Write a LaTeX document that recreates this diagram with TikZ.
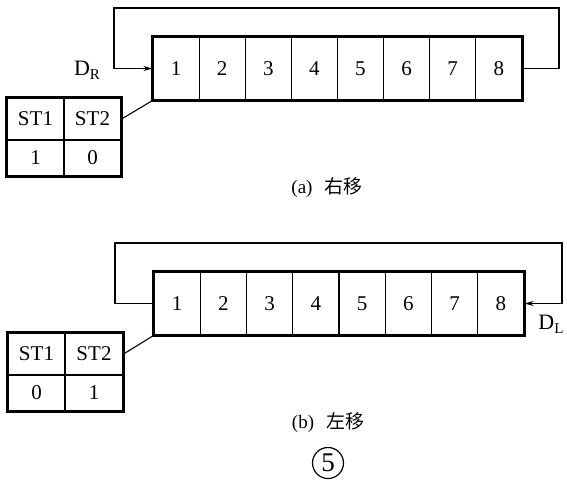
\documentclass[tikz,border=0pt]{standalone}
\usepackage{fontspec}
\setmainfont{Liberation Serif}
\newfontfamily\cjk{Noto Sans CJK SC}
\usetikzlibrary{arrows.meta}
\newcommand{\mysub}[1]{\raisebox{-4pt}{\fontsize{15}{15}\selectfont #1}}
\begin{document}
\begin{tikzpicture}[x=1pt,y=-1pt,
  cellbox/.style={draw,line width=1.1pt,minimum height=63pt,inner sep=0pt,font=\fontsize{21}{21}\selectfont},
  tabcell/.style={draw,line width=1.1pt,inner sep=0pt,font=\fontsize{21}{21}\selectfont},
  heavy/.style={line width=3pt},
  wire/.style={line width=1.1pt},
  arr/.style={-{Stealth[length=9pt,width=5pt]}},
  lbl/.style={font=\fontsize{22}{22}\selectfont},
  captext/.style={font=\fontsize{19}{19}\selectfont}]
\useasboundingbox (0,0) rectangle (567,487);
% ---------- (a) ----------
\foreach \i in {1,...,8}{
  \node[cellbox,minimum width=46.1pt] (a\i) at ({153+46.1*(\i-0.5)},68.5) {\i};
}
\draw[heavy] (a1.north west) rectangle (a8.south east);
\coordinate (aR) at (559,8);
\coordinate (aL) at (114,8);
\draw[wire,arr] (a8.east) -| (aR) -- (aL) |- (a1.west);
\node[lbl] (DR) at (87,70) {D\mysub{R}};
\node[tabcell,minimum width=57pt,minimum height=42pt] (sa1) at (35.5,119) {ST1};
\node[tabcell,minimum width=57pt,minimum height=42pt] (sa2) at (92.5,119) {ST2};
\node[tabcell,minimum width=57pt,minimum height=36pt] (sa3) at (35.5,158) {1};
\node[tabcell,minimum width=57pt,minimum height=36pt] (sa4) at (92.5,158) {0};
\draw[heavy] (sa1.north west) rectangle (sa4.south east);
\draw[wire] (sa2.east) -- (a1.south west);
\node[captext] (capa) at (327,188) {(a)\hspace{12pt}{\cjk 右移}};
% ---------- (b) ----------
\foreach \i in {1,...,8}{
  \node[cellbox,minimum width=46.25pt] (b\i) at ({154+46.25*(\i-0.5)},303.5) {\i};
}
\draw[heavy] (b1.north west) rectangle (b8.south east);
\coordinate (bR) at (562,243);
\coordinate (bL) at (115,243);
\draw[wire,arr] (b1.west) -| (bL) -- (bR) |- (b8.east);
\node[lbl] (DL) at (551,324) {D\mysub{L}};
\node[tabcell,minimum width=57pt,minimum height=42pt] (sb1) at (36.5,354) {ST1};
\node[tabcell,minimum width=58pt,minimum height=42pt] (sb2) at (94,354) {ST2};
\node[tabcell,minimum width=57pt,minimum height=36pt] (sb3) at (36.5,393) {0};
\node[tabcell,minimum width=58pt,minimum height=36pt] (sb4) at (94,393) {1};
\draw[heavy] (sb1.north west) rectangle (sb4.south east);
\draw[wire] (sb2.east) -- (b1.south west);
\node[captext] (capb) at (328,423) {(b)\hspace{12pt}{\cjk 左移}};
\node[draw,circle,line width=1.2pt,minimum size=31pt,inner sep=0pt,font=\fontsize{27}{27}\selectfont] (five) at (328,463) {5};
\end{tikzpicture}
\end{document}
